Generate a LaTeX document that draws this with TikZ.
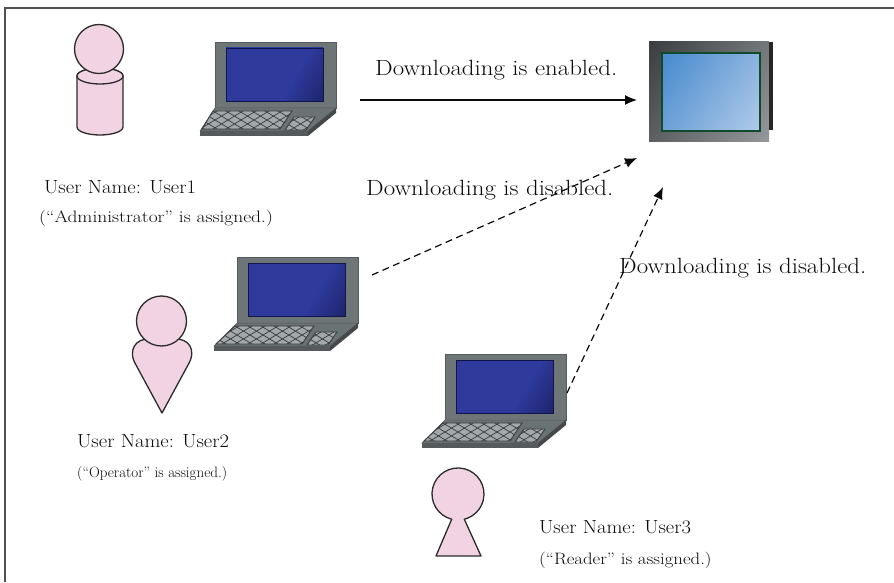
\documentclass[tikz,border=0pt]{standalone}
\usepackage{fontspec}
\usetikzlibrary{arrows.meta}

\definecolor{skin}{HTML}{F2D3E3}
\definecolor{outline}{HTML}{2B2B2B}
\definecolor{lidgray}{HTML}{6E7576}
\definecolor{lidedge}{HTML}{565C5E}
\definecolor{basegray}{HTML}{6B7273}
\definecolor{basedark}{HTML}{555A5C}
\definecolor{keygray}{HTML}{A3A9AB}
\definecolor{keyline}{HTML}{3A3E40}
\definecolor{scrblue}{HTML}{2E3A9C}
\definecolor{scrdark}{HTML}{12154A}
\definecolor{mondark}{HTML}{262A2C}
\definecolor{monlight}{HTML}{A9ADB1}
\definecolor{panelA}{HTML}{2F7BC7}
\definecolor{panelB}{HTML}{C8D9F0}
\definecolor{panelrim}{HTML}{0F4A2C}
\definecolor{ink}{HTML}{0A0A0A}
\definecolor{framegray}{HTML}{505050}

% screen of a laptop: flat blue, darkening towards one corner
\pgfdeclarehorizontalshading{laptopscreen}{100bp}{color(0bp)=(scrblue); color(62bp)=(scrblue); color(100bp)=(scrdark)}
% touch panel body and display
\pgfdeclarehorizontalshading{panelbody}{100bp}{color(0bp)=(mondark); color(100bp)=(monlight)}
\pgfdeclarehorizontalshading{paneldisplay}{100bp}{color(0bp)=(panelA); color(100bp)=(panelB)}

% wide setting of a label: horizontal stretch only
\newcommand\widetext[2]{\scalebox{#1}[1]{#2}}

\tikzset{
  person/.style={fill=skin, draw=outline, line width=1.3pt, line join=round},
  caption/.style={anchor=west, inner sep=0pt, text=ink,
    font=\fontsize{22}{26}\selectfont\addfontfeature{FakeBold=0.4}},
  username/.style={anchor=west, inner sep=0pt, text=ink,
    font=\fontsize{19}{23}\selectfont\addfontfeature{FakeBold=0.4}},
  userrole/.style={anchor=west, inner sep=0pt, text=ink,
    font=\fontsize{16.5}{20}\selectfont\addfontfeature{FakeBold=0.4}},
  okarrow/.style={draw=ink, line width=1.2pt, -{Latex[length=12pt,width=10pt]}},
  noarrow/.style={draw=ink, line width=1.2pt, dash pattern=on 7pt off 4.5pt, -{Latex[length=12pt,width=10pt]}},
  % #1: how far the front of the base reaches out to the left
  laptop/.pic={
    % lid
    \fill[lidgray, draw=lidedge, line width=0.5pt] (0,0) rectangle (121,-66);
    \shade[shading=laptopscreen, shading angle=-30] (11,-6) rectangle (108,-59);
    \draw[scrdark, line width=0.6pt] (11,-6) rectangle (108,-59);
    % base: top face, front edge, right edge
    \fill[basegray, draw=lidedge, line width=0.5pt] (0,-66) -- (121,-66) -- (93,-89) -- (-15-#1,-89) -- cycle;
    \fill[basedark] (-15-#1,-89) -- (93,-89) -- (93,-94) -- (-15-#1,-94) -- cycle;
    \fill[basedark!80!black] (93,-89) -- (121,-66) -- (121,-71) -- (93,-94) -- cycle;
    % keyboard with a diamond grid
    \begin{scope}
      \clip (-2,-69) -- (77,-69) -- (65,-87) -- (-13-#1,-87) -- cycle;
      \fill[keygray] (-40,-60) rectangle (110,-95);
      \foreach \k in {-103,-90,...,100} {
        \draw[keyline, line width=0.7pt] (\k,-93) -- ++(50,30);
        \draw[keyline, line width=0.7pt] (\k,-63) -- ++(50,-30);
      }
    \end{scope}
    \draw[keyline, line width=0.9pt] (-2,-69) -- (77,-69) -- (65,-87) -- (-13-#1,-87) -- cycle;
    % small pad
    \begin{scope}
      \clip (79,-75) -- (100,-75) -- (91,-88) -- (70,-88) -- cycle;
      \fill[keygray] (60,-70) rectangle (110,-95);
      \foreach \k in {15,28,...,110} {
        \draw[keyline, line width=0.7pt] (\k,-93) -- ++(50,30);
        \draw[keyline, line width=0.7pt] (\k,-63) -- ++(50,-30);
      }
    \end{scope}
    \draw[keyline, line width=0.9pt] (79,-75) -- (100,-75) -- (91,-88) -- (70,-88) -- cycle;
  }
}

\begin{document}
\begin{tikzpicture}[x=1pt, y=1pt]
\useasboundingbox (0,0) rectangle (894,582);

% open frame along the left and top
\draw[framegray, line width=1.6pt] (5,0) -- (5,574) -- (894,574);

% ---- user 1: cylinder body with round head
\path[person] (77,506) -- (77,455) arc[start angle=180, end angle=360, x radius=23, y radius=8]
  -- (123,506) arc[start angle=0, end angle=180, x radius=23, y radius=8] -- cycle;
\draw[person] (100,506) ellipse [x radius=23, y radius=8];
\path[person] (99,533) circle (24.5);

% ---- user 2: tapering body with round head
\path[person] (162,169) -- (136,217) .. controls (127,232) and (136,244) .. (150,243)
  -- (174,243) .. controls (189,244) and (197,232) .. (188,217) -- cycle;
\path[person] (161.5,261) circle (25);

% ---- user 3: keyhole figure
\path[person] (464.3,62.8) -- (481,26) -- (436,26) -- (451.7,62.8)
  arc[start angle=256, end angle=-76, radius=26] -- cycle;

% ---- laptops
\pic (lapA) at (215,540) {laptop=0};
\pic (lapB) at (237,325) {laptop=8};
\pic (lapC) at (445,228) {laptop=8};

% ---- touch panel
\shade[shading=panelbody, shading angle=-35] (649,440) rectangle (769,540);
\fill[black!85] (769,452) rectangle (773,540);
\shade[shading=paneldisplay, shading angle=-35] (662,451) rectangle (760,529);
\draw[panelrim, line width=2pt] (662,451) rectangle (760,529);

% ---- connector end points
\coordinate (fromA) at (360,482);
\coordinate (toA) at (637,482);
\coordinate (fromB) at (372,307);
\coordinate (toB) at (637,424);
\coordinate (fromC) at (567,189);
\coordinate (toC) at (663,395);

\draw[okarrow] (fromA) -- (toA);
\draw[noarrow] (fromB) -- (toB);
\draw[noarrow] (fromC) -- (toC);

% ---- captions
\node[caption] (capA) at (375,512) {\widetext{1.13}{Downloading is enabled.}};
\node[caption] (capB) at (366,392) {\widetext{1.13}{Downloading is disabled.}};
\node[caption] (capC) at (619,314) {\widetext{1.13}{Downloading is disabled.}};

\node[username] (nameA) at (44,395) {\widetext{1.085}{User Name: User1}};
\node[userrole] (roleA) at (39,364) {\widetext{1.18}{(“Administrator” is assigned.)}};
\node[username] (nameB) at (77,141) {\widetext{1.085}{User Name: User2}};
\node[userrole, font=\fontsize{15}{18}\selectfont\addfontfeature{FakeBold=0.4}] (roleB) at (77,108) {(“Operator” is assigned.)};
\node[username] (nameC) at (539,55) {\widetext{1.085}{User Name: User3}};
\node[userrole] (roleC) at (539,22) {\widetext{1.14}{(“Reader” is assigned.)}};
\end{tikzpicture}
\end{document}
